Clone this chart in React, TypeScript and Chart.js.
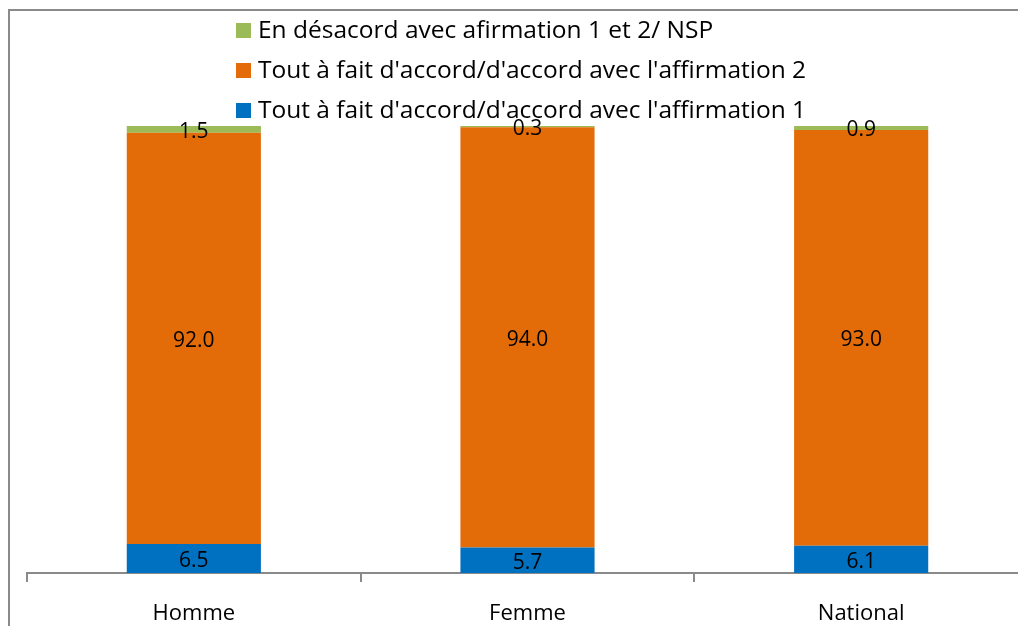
import React, { useEffect, useRef } from "react";
import { Chart, registerables } from "chart.js";

Chart.register(...registerables);

const categories = ["Homme", "Femme", "National"];
const seriesNames = [
  "Tout à fait d'accord/d'accord avec l'affirmation 1",
  "Tout à fait d'accord/d'accord avec l'affirmation 2",
  "En désacord avec afirmation 1 et 2/ NSP",
];
const affirmation1 = [6.5, 5.7, 6.1];
const affirmation2 = [92.0, 94.0, 93.0];
const desaccord = [1.5, 0.3, 0.9];
const seriesColors = ["#0070C0", "#E36C09", "#9BBB59"];

const FONT = "'Open Sans', 'Liberation Sans', sans-serif";

const framePlugin = {
  id: "frame",
  beforeDraw(chart: any) {
    const ctx = chart.ctx;
    ctx.save();
    ctx.fillStyle = "#ffffff";
    ctx.fillRect(0, 0, chart.width, chart.height);
    ctx.strokeStyle = "#8a8a8a";
    ctx.lineWidth = 2;
    ctx.beginPath();
    ctx.moveTo(9, chart.height);
    ctx.lineTo(9, 10);
    ctx.lineTo(chart.width, 10);
    ctx.stroke();
    ctx.restore();
  },
};

const legendPlugin = {
  id: "customLegend",
  afterDraw(chart: any) {
    const ctx = chart.ctx;
    ctx.save();
    ctx.font = `24.5px ${FONT}`;
    ctx.textBaseline = "middle";
    ctx.textAlign = "left";
    const ds = chart.data.datasets;
    const order = [2, 1, 0];
    order.forEach((idx, row) => {
      const cy = 31 + row * 40;
      ctx.fillStyle = ds[idx].backgroundColor;
      ctx.fillRect(236, cy - 8, 15, 15);
      ctx.fillStyle = "#000000";
      ctx.fillText(ds[idx].label, 258, cy);
    });
    ctx.restore();
  },
};

const labelsPlugin = {
  id: "valueLabels",
  afterDatasetsDraw(chart: any) {
    const ctx = chart.ctx;
    ctx.save();
    ctx.font = `21px ${FONT}`;
    ctx.fillStyle = "#000000";
    ctx.textAlign = "center";
    ctx.textBaseline = "middle";
    chart.data.datasets.forEach((ds: any, i: number) => {
      const meta = chart.getDatasetMeta(i);
      meta.data.forEach((el: any, j: number) => {
        const v = ds.data[j];
        const props = el.getProps(["x", "y", "base"], true);
        const cy = (props.y + props.base) / 2;
        ctx.fillText(Number(v).toFixed(1), props.x, cy + 2.5);
      });
    });
    ctx.restore();
  },
};

export default function App() {
  const ref = useRef<HTMLCanvasElement>(null);
  useEffect(() => {
    if (!ref.current) return;
    const mk = (label: string, data: number[], color: string) => ({
      label,
      data,
      backgroundColor: color,
      borderWidth: 0,
      barPercentage: 0.402,
      categoryPercentage: 1,
    });
    const chart = new Chart(ref.current, {
      type: "bar",
      data: {
        labels: categories,
        datasets: [
          mk(seriesNames[0], affirmation1, seriesColors[0]),
          mk(seriesNames[1], affirmation2, seriesColors[1]),
          mk(seriesNames[2], desaccord, seriesColors[2]),
        ],
      },
      options: {
        animation: false,
        responsive: false,
        devicePixelRatio: 1,
        layout: { padding: { left: 27, top: 126, right: 0, bottom: 0 } },
        plugins: {
          legend: { display: false },
          tooltip: { enabled: false },
          title: { display: false },
        },
        scales: {
          x: {
            stacked: true,
            grid: {
              display: true,
              offset: true,
              drawOnChartArea: false,
              drawTicks: true,
              tickLength: 9,
              color: "#8a8a8a",
              lineWidth: 2,
            },
            border: { display: true, color: "#8a8a8a", width: 2 },
            ticks: {
              color: "#000000",
              font: { family: FONT, size: 22 },
              padding: 19,
              maxRotation: 0,
            },
            afterFit(scale: any) {
              scale.height = 53;
            },
          },
          y: {
            stacked: true,
            display: false,
            min: 0,
            max: 100,
          },
        },
      },
      plugins: [framePlugin, legendPlugin, labelsPlugin],
    });
    return () => chart.destroy();
  }, []);
  return (
    <div
      style={{
        position: "fixed",
        left: 0,
        top: 0,
        width: 1018,
        height: 626,
        overflow: "hidden",
        background: "#fff",
      }}
    >
      <canvas ref={ref} width={1028} height={626} style={{ display: "block" }} />
    </div>
  );
}
